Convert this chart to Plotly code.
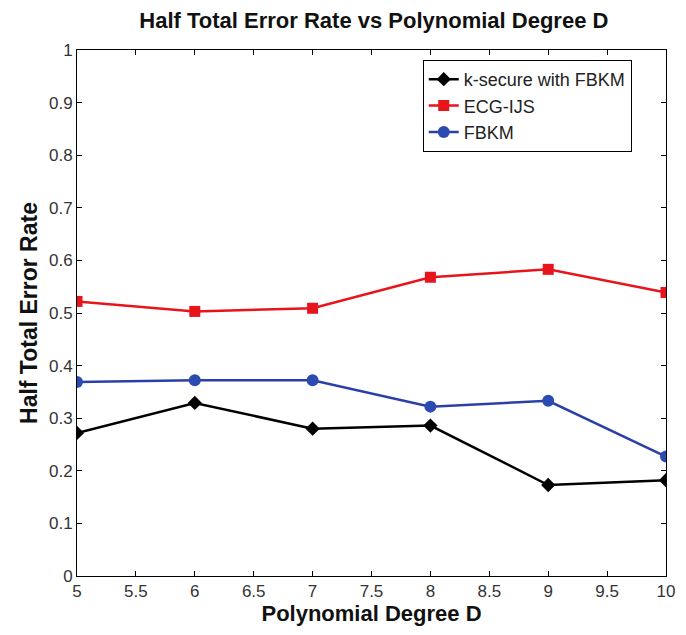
import plotly.graph_objects as go

degree = [5, 6, 7, 8, 9, 10]
k_secure = [0.272, 0.329, 0.280, 0.286, 0.173, 0.182]
ecg_ijs = [0.522, 0.503, 0.509, 0.568, 0.583, 0.539]
fbkm = [0.369, 0.372, 0.372, 0.322, 0.333, 0.227]

x_ticks = [5, 5.5, 6, 6.5, 7, 7.5, 8, 8.5, 9, 9.5, 10]
x_tick_text = ["5", "5.5", "6", "6.5", "7", "7.5", "8", "8.5", "9", "9.5", "10"]
y_ticks = [0, 0.1, 0.2, 0.3, 0.4, 0.5, 0.6, 0.7, 0.8, 0.9, 1]
y_tick_text = ["0", "0.1", "0.2", "0.3", "0.4", "0.5", "0.6", "0.7", "0.8", "0.9", "1"]

fig = go.Figure()
fig.add_trace(go.Scatter(x=degree, y=k_secure, mode="lines+markers", name="k-secure with FBKM",
                         line=dict(color="black", width=2.5),
                         marker=dict(symbol="diamond", size=11, color="black")))
fig.add_trace(go.Scatter(x=degree, y=ecg_ijs, mode="lines+markers", name="ECG-IJS",
                         line=dict(color="#e8141c", width=2.5),
                         marker=dict(symbol="square", size=11, color="#e8141c")))
fig.add_trace(go.Scatter(x=degree, y=fbkm, mode="lines+markers", name="FBKM",
                         line=dict(color="#2b3fa8", width=2.5),
                         marker=dict(symbol="circle", size=12, color="#2b4bb0")))

fig.update_layout(
    width=686, height=635,
    margin=dict(l=77, r=11, t=50, b=59),
    paper_bgcolor="white", plot_bgcolor="white",
    font=dict(family="Arial, Liberation Sans, sans-serif", color="#222"),
    title=dict(text="<b>Half Total Error Rate vs Polynomial Degree D</b>",
               x=0.545, xanchor="center", y=0.968, yanchor="middle",
               font=dict(size=22, color="#111")),
    legend=dict(x=0.587, y=0.981, xanchor="left", yanchor="top",
                bgcolor="white", bordercolor="black", borderwidth=1,
                font=dict(size=18, color="#222"), tracegroupgap=3),
    showlegend=True,
)
fig.update_xaxes(range=[5, 10], tickvals=x_ticks, ticktext=x_tick_text,
                 ticks="inside", ticklen=5, tickcolor="black", mirror="ticks",
                 showline=True, linecolor="black", linewidth=1, showgrid=False, zeroline=False,
                 tickfont=dict(size=17, color="#333"),
                 title=dict(text="<b>Polynomial Degree D</b>", font=dict(size=22, color="#111"), standoff=2))
fig.update_yaxes(range=[0, 1], tickvals=y_ticks, ticktext=y_tick_text,
                 ticks="inside", ticklen=5, tickcolor="black", mirror="ticks",
                 showline=True, linecolor="black", linewidth=1, showgrid=False, zeroline=False,
                 tickfont=dict(size=17, color="#333"),
                 title=dict(text="<b>Half Total Error Rate</b>", font=dict(size=23, color="#111"), standoff=4))

fig.write_html("out.html")
